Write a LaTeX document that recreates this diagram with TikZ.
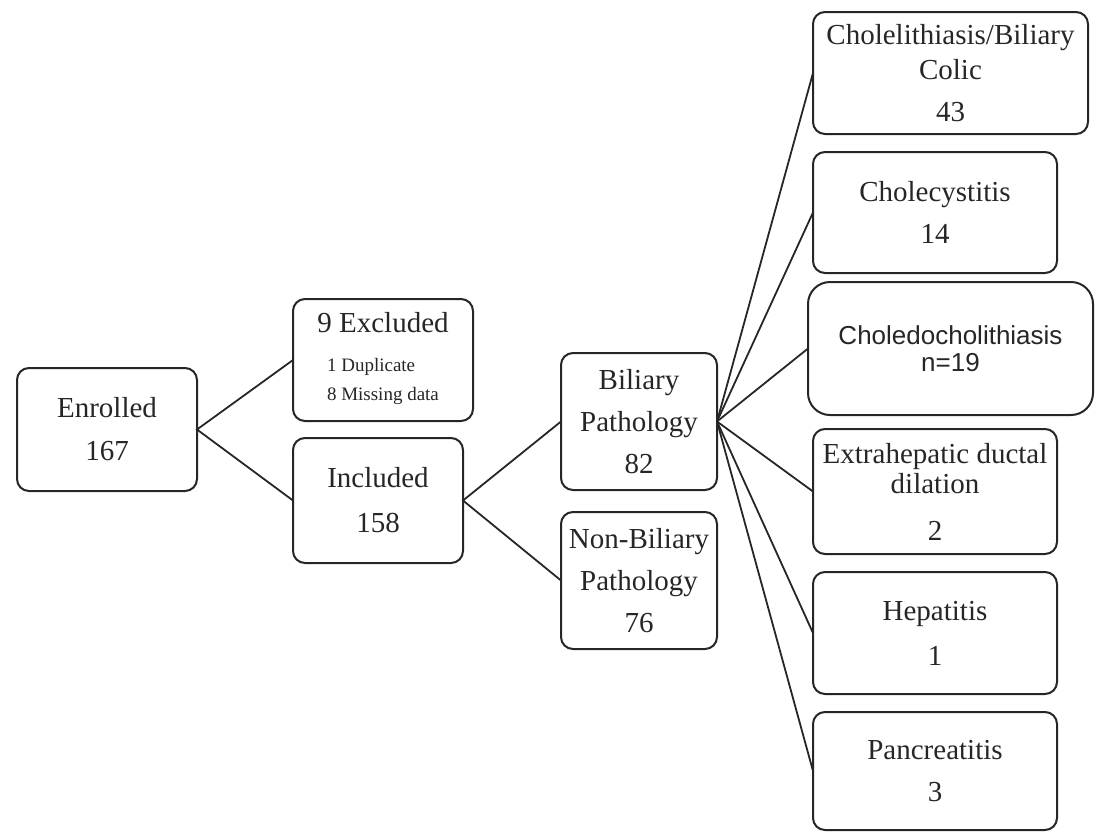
\documentclass[tikz,border=0pt]{standalone}
\usepackage{fontspec}
\setmainfont{Liberation Serif}
\setsansfont{Liberation Sans}
\begin{document}
\begin{tikzpicture}[x=1pt,y=-1pt,
  box/.style={draw=black!85, line width=2pt, rounded corners=12pt, inner sep=0pt, outer sep=0pt,
    align=center, font=\fontsize{29}{35}\selectfont, text=black!85},
  link/.style={draw=black!85, line width=1.8pt}]
\useasboundingbox (0,0) rectangle (1096,831);
\node[box, minimum width=180pt, minimum height=123pt] (enr) at (107,429.5) {Enrolled\\[8pt]167};
\node[box, minimum width=180pt, minimum height=122pt] (exc) at (383,360)
  {9 Excluded\\[4pt]{\fontsize{19}{23}\selectfont\begin{tabular}[t]{@{}l@{}}1 Duplicate\\[6pt]8 Missing data\end{tabular}}};
\node[box, minimum width=170pt, minimum height=125pt] (inc) at (378,500.5) {Included\\[10pt]158};
\node[box, minimum width=156pt, minimum height=137pt] (bil) at (639,421.5) {Biliary\\[7pt]Pathology\\[7pt]82};
\node[box, minimum width=156pt, minimum height=137pt] (nbil) at (639,580.5) {Non-Biliary\\[7pt]Pathology\\[7pt]76};
\node[box, minimum width=275pt, minimum height=122pt] (c1) at (950.5,73) {Cholelithiasis/Biliary\\Colic\\[7pt]43};
\node[box, minimum width=244pt, minimum height=121pt] (c2) at (935,212.5) {Cholecystitis\\[7pt]14};
\node[box, rounded corners=22pt, minimum width=285pt, minimum height=133pt,
  font=\sffamily\fontsize{26}{27}\selectfont] (c3) at (950.5,348.5) {Choledocholithiasis\\n=19};
\node[box, minimum width=244pt, minimum height=125pt] (c4) at (935,491.5) {Extrahepatic ductal\\[-5pt]dilation\\[12pt]2};
\node[box, minimum width=244pt, minimum height=122pt] (c5) at (935,633) {Hepatitis\\[10pt]1};
\node[box, minimum width=244pt, minimum height=118pt] (c6) at (935,771) {Pancreatitis\\[7pt]3};
\draw[link] (exc.west) -- (enr.east) -- (inc.west);
\draw[link] (bil.west) -- (inc.east) -- (nbil.west);
\foreach \t in {c1,c2,c3,c4,c5,c6} \draw[link] (bil.east) -- (\t.west);
\end{tikzpicture}
\end{document}
